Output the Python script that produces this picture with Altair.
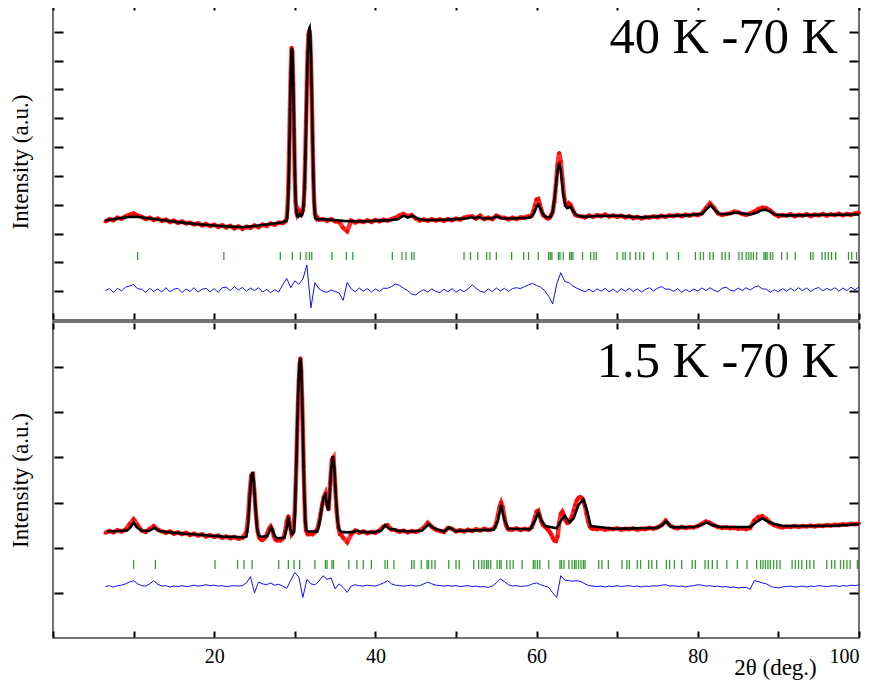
import altair as alt
import pandas as pd

# ---------------- text ----------------
TOP_LABEL = "40 K -70 K"
BOT_LABEL = "1.5 K -70 K"
Y_TITLE = "Intensity (a.u.)"
X_TITLE = "2θ (deg.)"
X_TICKS = [0, 10, 20, 30, 40, 50, 60, 70, 80, 90, 100]
TOP_Y_TICKS = [1, 2, 3, 4, 5, 6, 7, 8, 9, 10]
BOT_Y_TICKS = [1, 2, 3, 4, 5, 6]

# ---------------- top panel (40 K - 70 K) ----------------
TOP_CALC = [(6.5,3.45),(8,3.52),(9.5,3.58),(10.5,3.58),(12,3.52),(14,3.45),(16,3.38),(18,3.32),(20,3.28),(22,3.24),
    (23.5,3.22),(25,3.26),(27,3.33),(28.5,3.39),(29.0,3.45),(29.1,3.75),(29.2,4.4),(29.3,5.6),(29.4,7.1),(29.5,8.5),
    (29.6,9.35),(29.65,9.43),(29.7,9.3),(29.8,8.3),(29.9,6.8),(30.0,5.2),(30.1,4.2),(30.2,3.75),(30.3,3.6),(30.4,3.58),
    (30.5,3.6),(30.6,3.66),(30.7,3.62),(30.8,3.6),(30.9,3.64),(31.0,3.75),(31.1,4.0),(31.2,4.6),(31.3,5.5),(31.4,6.8),
    (31.5,8.1),(31.6,9.2),(31.7,9.85),(31.8,10.12),(31.85,10.15),(31.9,10.0),(32.0,9.2),(32.1,7.9),(32.2,6.4),(32.3,5.0),
    (32.4,4.1),(32.5,3.65),(32.6,3.52),(32.8,3.5),(34,3.49),(36,3.44),(38,3.42),(40,3.44),(42,3.47),(42.8,3.5),
    (43.5,3.62),(44.0,3.55),(44.6,3.62),(45.2,3.52),(46,3.47),(48,3.47),(50,3.5),(51.5,3.53),(51.9,3.58),(52.3,3.53),
    (52.8,3.58),(53.2,3.52),(54.5,3.53),(55.1,3.6),(55.6,3.53),(57,3.52),(59,3.55),(59.4,3.6),(59.7,3.72),(60.0,3.93),
    (60.2,4.01),(60.4,3.92),(60.7,3.72),(61.0,3.6),(61.4,3.56),(61.7,3.57),(62.0,3.75),(62.3,4.4),(62.6,5.2),(62.8,5.46),
    (63.0,5.2),(63.3,4.4),(63.6,3.95),(63.8,3.88),(64.0,3.9),(64.2,3.93),(64.5,3.8),(64.8,3.68),(65.3,3.6),(66,3.58),
    (68,3.62),(70,3.62),(72,3.58),(73,3.56),(75,3.59),(77,3.62),(79,3.64),(80.5,3.68),(81.1,3.85),(81.6,3.99),
    (82.1,3.82),(82.7,3.68),(83.5,3.67),(84.4,3.71),(84.9,3.74),(85.5,3.69),(86.5,3.66),(87.3,3.72),(87.8,3.8),(88.4,3.83),
    (89.0,3.76),(89.6,3.66),(90.5,3.63),(92,3.63),(94,3.64),(96,3.65),(98,3.65),(100,3.66)]

TOP_OBS = [(6.5,3.42),(7,3.5),(7.5,3.46),(8,3.55),(8.5,3.51),(9,3.6),(9.5,3.66),(10,3.7),(10.5,3.63),(11,3.58),
    (11.5,3.5),(12,3.55),(12.5,3.47),(13,3.52),(13.5,3.44),(14,3.48),(14.5,3.4),(15,3.45),(15.5,3.37),(16,3.42),
    (16.5,3.35),(17,3.38),(17.5,3.31),(18,3.36),(18.5,3.28),(19,3.33),(19.5,3.26),(20,3.31),(20.5,3.23),(21,3.29),
    (21.5,3.21),(22,3.27),(22.5,3.18),(23,3.25),(23.5,3.16),(24,3.24),(24.5,3.2),(25,3.28),(25.5,3.22),(26,3.31),
    (26.5,3.26),(27,3.35),(27.5,3.3),(28,3.38),(28.5,3.36),
    (28.8,3.42),(28.9,3.45),(29.0,3.55),(29.1,3.9),(29.2,4.6),(29.3,5.8),(29.4,7.3),(29.5,8.6),(29.6,9.45),(29.7,9.3),
    (29.8,8.2),(29.9,6.6),(30.0,5.0),(30.1,4.1),(30.2,3.75),(30.3,3.65),(30.4,3.7),(30.5,3.78),(30.6,3.72),(30.7,3.76),
    (30.8,3.7),(30.9,3.74),(31.0,3.8),(31.1,4.0),(31.2,4.6),(31.3,5.6),(31.4,6.9),(31.5,8.2),(31.6,9.3),(31.7,9.9),
    (31.8,10.05),(31.9,9.8),(32.0,9.0),(32.1,7.8),(32.2,6.3),(32.3,5.0),(32.4,4.1),(32.5,3.7),(32.6,3.56),(32.7,3.52),
    (32.8,3.55),(32.9,3.5),(33.0,3.48),
    (33.5,3.5),(34,3.44),(34.5,3.5),(35,3.42),(35.5,3.4),(36,3.2),(36.5,3.08),(37,3.45),(37.5,3.38),(38,3.44),
    (38.5,3.4),(39,3.46),(39.5,3.4),(40,3.47),(40.5,3.42),(41,3.48),(41.5,3.45),(42,3.5),(42.5,3.55),(43,3.63),
    (43.5,3.68),(44,3.6),(44.5,3.64),(45,3.52),(45.5,3.45),(46,3.49),(46.5,3.44),(47,3.5),(47.5,3.45),(48,3.49),
    (48.5,3.44),(49,3.5),(49.5,3.46),(50,3.52),(50.5,3.48),(51,3.55),(51.5,3.58),(52,3.6),(52.5,3.52),(53,3.62),
    (53.5,3.5),(54,3.55),(54.5,3.5),(55,3.62),(55.5,3.56),(56,3.55),(56.5,3.49),(57,3.55),(57.5,3.5),(58,3.56),
    (58.5,3.55),(59,3.6),
    (59.2,3.58),(59.4,3.62),(59.6,3.78),(59.8,3.98),(60.0,4.18),(60.2,4.2),(60.4,4.02),(60.6,3.8),(60.8,3.64),(61.0,3.6),
    (61.2,3.55),(61.4,3.52),(61.6,3.55),(61.8,3.62),(62.0,3.75),(62.2,4.1),(62.4,4.7),(62.6,5.4),(62.8,5.8),(63.0,5.5),
    (63.2,4.9),(63.4,4.3),(63.6,4.0),(63.8,3.98),(64.0,4.05),(64.2,4.0),(64.4,3.88),(64.6,3.75),(64.8,3.65),(65.0,3.62),
    (65.5,3.6),(66,3.56),(66.5,3.63),(67,3.58),(67.5,3.64),(68,3.6),(68.5,3.66),(69,3.59),(69.5,3.63),(70,3.58),
    (70.5,3.62),(71,3.56),(71.5,3.6),(72,3.53),(72.5,3.58),(73,3.52),(73.5,3.57),(74,3.55),(74.5,3.6),(75,3.56),
    (75.5,3.62),(76,3.58),(76.5,3.63),(77,3.6),(77.5,3.65),(78,3.6),(78.5,3.66),(79,3.62),(79.5,3.67),(80,3.64),
    (80.5,3.7),(81,3.88),(81.5,4.05),(82,3.9),(82.5,3.7),(83,3.65),(83.5,3.68),(84,3.7),(84.5,3.76),(85,3.74),
    (85.5,3.68),(86,3.65),(86.5,3.7),(87,3.76),(87.5,3.85),(88,3.9),(88.5,3.88),(89,3.8),(89.5,3.67),(90,3.6),
    (90.5,3.64),(91,3.62),(91.5,3.67),(92,3.6),(92.5,3.65),(93,3.62),(93.5,3.67),(94,3.61),(94.5,3.66),(95,3.63),
    (95.5,3.68),(96,3.62),(96.5,3.67),(97,3.64),(97.5,3.69),(98,3.63),(98.5,3.68),(99,3.65),(99.5,3.7),(100,3.72)]

# difference curve, sampled every 0.5 deg from 6.5 deg
TOP_DIFF = [1.02,1.09,0.96,1.1,1.01,1.14,1.18,1.23,1.08,1.07,
    0.96,1.1,0.99,1.08,0.97,1.12,0.98,1.07,1.1,0.95,
    1.08,0.99,1.12,0.97,1.07,1.1,0.98,1.09,0.96,1.12,
    1.14,1.02,1.16,1.04,1.13,1.0,1.11,1.02,1.12,0.97,
    1.06,0.95,1.05,0.97,1.22,1.44,1.12,1.36,1.24,1.42,
    1.91,0.42,1.3,1.08,1.0,0.96,1.04,0.99,0.94,0.68,
    1.3,1.08,0.98,1.11,1.0,1.09,0.97,1.08,0.99,1.1,
    1.1,1.16,1.25,1.2,1.1,1.02,0.9,0.87,0.98,1.05,
    0.97,1.08,0.99,0.95,1.07,0.98,1.09,0.96,1.06,0.98,
    1.08,1.22,1.1,1.0,0.96,1.08,0.98,1.11,1.01,1.1,
    0.99,1.09,1.12,1.09,1.16,1.22,1.27,1.2,1.14,1.02,
    0.82,0.56,1.25,1.64,1.33,1.3,1.18,1.1,1.04,0.98,
    1.07,0.97,1.08,1.0,1.1,0.98,1.07,0.96,1.09,1.0,
    1.1,0.99,1.08,0.97,1.06,1.12,1.01,1.1,1.16,1.07,
    1.07,0.99,1.09,0.96,1.06,0.98,1.08,1.0,1.11,1.02,
    1.12,1.03,0.98,1.1,1.14,1.04,1.0,1.11,1.02,1.12,
    1.04,1.14,1.18,1.08,1.07,0.96,1.05,0.98,1.09,1.0,
    1.1,1.01,1.12,1.02,1.11,0.99,1.08,1.13,1.01,1.1,
    1.03,1.12,1.0,1.11,1.02,1.14,1.04,1.15]

TOP_BRAGG = [10.5,21.2,28.2,29.7,30.7,31.4,31.8,32.1,34.6,36.4,37.2,42.1,43.3,43.8,44.5,44.8,51.0,51.8,52.7,53.8,
    54.2,55.0,56.9,58.4,59.0,60.2,61.5,61.7,61.9,62.7,62.9,63.3,64.1,64.3,64.5,65.7,66.7,67.1,67.4,70.0,
    70.7,71.0,71.6,72.3,72.8,73.3,74.5,76.2,77.6,79.7,80.3,80.7,81.5,81.9,83.0,83.4,83.9,85.1,85.5,86.0,
    86.3,86.6,86.9,87.3,88.2,88.4,88.6,89.0,89.3,90.4,91.1,92.1,94.0,94.3,95.4,95.8,96.2,96.6,97.1,98.7,
    99.1,99.7]
TOP_BRAGG_SPAN = (2.08, 2.36)

# ---------------- bottom panel (1.5 K - 70 K) ----------------
BOT_CALC = [(6.7,2.36),(8,2.37),(9.2,2.38),(9.6,2.45),(10.0,2.56),(10.4,2.45),(11.1,2.37),(12.0,2.38),(12.6,2.44),(13.2,2.37),
    (14.4,2.34),(16.5,2.31),(18.5,2.28),(21,2.25),(23.7,2.23),(24.0,2.25),(24.2,2.5),(24.4,3.1),(24.6,3.55),(24.75,3.68),
    (24.9,3.5),(25.1,2.95),(25.3,2.45),(25.5,2.28),(25.8,2.24),(26.6,2.26),(26.9,2.38),(27.1,2.45),(27.3,2.36),(27.5,2.26),
    (27.8,2.21),(28.7,2.22),(29.0,2.45),(29.2,2.68),(29.45,2.4),(29.7,2.3),(29.9,2.35),(30.0,2.7),(30.1,3.3),(30.2,3.95),
    (30.3,4.65),(30.4,5.3),(30.5,5.8),(30.6,6.1),(30.7,6.19),(30.8,5.95),(30.9,5.35),(31.0,4.6),(31.1,3.75),(31.2,3.05),
    (31.3,2.6),(31.4,2.4),(31.6,2.36),(32.8,2.36),(33.0,2.5),(33.2,2.72),(33.4,2.95),(33.6,3.12),(33.8,3.18),(34.0,2.95),
    (34.15,2.82),(34.3,3.1),(34.5,3.7),(34.7,4.03),(34.9,3.8),(35.1,3.1),(35.3,2.6),(35.5,2.4),(35.8,2.35),(36.5,2.34),
    (37.3,2.35),(37.7,2.38),(38.2,2.35),(39.8,2.34),(40.7,2.38),(41.2,2.5),(41.7,2.42),(42.3,2.41),(42.6,2.38),(44.3,2.36),
    (45.8,2.38),(46.6,2.52),(47.2,2.44),(47.6,2.41),(48.5,2.36),(49.2,2.45),(49.8,2.38),(50.1,2.37),(54.7,2.40),(55.2,2.6),
    (55.6,2.95),(56.0,2.62),(56.5,2.42),(59.2,2.41),(59.8,2.6),(60.2,2.78),(60.6,2.6),(61.1,2.48),(62.5,2.43),(63.1,2.62),
    (63.5,2.70),(64.1,2.56),(64.6,2.65),(65.2,2.95),(65.8,3.07),(66.3,2.8),(66.7,2.48),(69.6,2.42),(74.9,2.44),(75.6,2.5),
    (76.1,2.59),(76.6,2.47),(77.2,2.45),(79.5,2.46),(80.4,2.5),(81.1,2.56),(81.8,2.5),(82.8,2.46),(86.5,2.46),(87.2,2.56),
    (88.0,2.65),(88.7,2.58),(89.4,2.53),(90.6,2.48),(94.4,2.48),(97,2.49),(100,2.52)]

BOT_OBS = [(6.5,2.33),(7,2.37),(7.5,2.34),(8,2.39),(8.5,2.36),(9,2.4),(9.5,2.52),(10,2.63),(10.5,2.5),(11,2.38),
    (11.5,2.35),(12,2.42),(12.5,2.48),(13,2.4),(13.5,2.36),(14,2.33),(14.5,2.36),(15,2.31),(15.5,2.34),(16,2.3),
    (16.5,2.33),(17,2.28),(17.5,2.31),(18,2.27),(18.5,2.3),(19,2.25),(19.5,2.28),(20,2.24),(20.5,2.27),(21,2.22),
    (21.5,2.25),(22,2.21),(22.5,2.24),(23,2.2),(23.5,2.22),
    (24.0,2.35),(24.2,2.65),(24.4,3.2),(24.6,3.6),(24.8,3.62),(25.0,3.2),(25.2,2.7),(25.4,2.35),(25.6,2.22),
    (25.8,2.18),(26.0,2.17),(26.2,2.2),(26.4,2.24),(26.6,2.32),(26.8,2.42),(27.0,2.47),(27.2,2.4),(27.4,2.26),(27.6,2.18),
    (27.8,2.16),(28.0,2.17),(28.2,2.16),(28.4,2.19),(28.6,2.22),(28.8,2.35),(29.0,2.58),(29.2,2.7),(29.4,2.5),(29.6,2.3),
    (29.8,2.35),
    (30.0,2.8),(30.1,3.3),(30.2,3.9),(30.3,4.6),(30.4,5.2),(30.5,5.7),(30.6,6.05),(30.7,6.2),(30.8,5.9),(30.9,5.3),
    (31.0,4.6),(31.1,3.8),(31.2,3.1),(31.3,2.6),(31.4,2.38),
    (31.6,2.3),(31.8,2.3),(32.0,2.32),(32.2,2.3),(32.4,2.33),(32.6,2.36),(32.8,2.42),(33.0,2.55),(33.2,2.75),(33.4,2.95),
    (33.6,3.12),(33.8,3.2),(34.0,2.95),(34.2,2.85),(34.4,3.45),(34.6,3.95),(34.8,4.0),(35.0,3.4),(35.2,2.8),(35.4,2.45),
    (35.6,2.3),(35.8,2.28),
    (36,2.22),(36.5,2.12),(37,2.3),(37.5,2.38),(38,2.33),(38.5,2.36),(39,2.32),(39.5,2.35),(40,2.33),(40.5,2.38),
    (41,2.47),(41.5,2.5),(42,2.4),(42.5,2.39),(43,2.35),(43.5,2.38),(44,2.34),(44.5,2.37),(45,2.35),(45.5,2.38),
    (46,2.45),(46.5,2.55),(47,2.46),(47.5,2.4),(48,2.37),(48.5,2.35),(49,2.44),(49.5,2.42),(50,2.36),(50.5,2.39),
    (51,2.36),(51.5,2.4),(52,2.37),(52.5,2.41),(53,2.38),(53.5,2.42),(54,2.39),(54.5,2.41),
    (54.8,2.45),(55.0,2.55),(55.2,2.72),(55.4,2.9),(55.6,3.0),(55.8,2.9),(56.0,2.68),(56.2,2.5),(56.4,2.42),(56.6,2.4),
    (56.8,2.41),(57,2.4),(57.5,2.43),(58,2.39),(58.5,2.42),(59,2.4),
    (59.4,2.45),(59.6,2.55),(59.8,2.68),(60.0,2.8),(60.2,2.82),(60.4,2.7),(60.6,2.58),(60.8,2.5),(61.0,2.47),(61.2,2.44),
    (61.4,2.4),(61.6,2.36),(61.8,2.3),(62.0,2.22),(62.2,2.16),(62.4,2.15),(62.6,2.25),(62.8,2.55),(63.0,2.75),(63.2,2.8),
    (63.4,2.72),(63.6,2.6),(63.8,2.55),(64.0,2.56),(64.2,2.62),(64.4,2.7),(64.6,2.82),(64.8,2.95),(65.0,3.05),(65.2,3.1),
    (65.4,3.12),(65.6,3.1),(65.8,3.05),(66.0,2.92),(66.2,2.75),(66.4,2.58),(66.6,2.47),(66.8,2.43),(67.0,2.42),
    (67.5,2.41),(68,2.43),(68.5,2.4),(69,2.42),(69.5,2.41),(70,2.43),(70.5,2.4),(71,2.42),(71.5,2.41),(72,2.43),
    (72.5,2.4),(73,2.42),(73.5,2.41),(74,2.44),(74.5,2.42),(75,2.45),(75.5,2.5),(76,2.6),(76.5,2.5),(77,2.45),
    (77.5,2.43),(78,2.46),(78.5,2.44),(79,2.46),(79.5,2.45),(80,2.48),(80.5,2.53),(81,2.58),(81.5,2.55),(82,2.5),
    (82.5,2.46),(83,2.44),(83.5,2.45),(84,2.43),(84.5,2.44),(85,2.42),(85.5,2.43),(86,2.41),(86.5,2.44),(87,2.6),
    (87.5,2.68),(88,2.7),(88.5,2.64),(89,2.55),(89.5,2.5),(90,2.47),(90.5,2.45),(91,2.47),(91.5,2.46),(92,2.48),
    (92.5,2.46),(93,2.48),(93.5,2.47),(94,2.49),(94.5,2.47),(95,2.49),(95.5,2.48),(96,2.5),(96.5,2.49),(97,2.51),
    (97.5,2.5),(98,2.52),(98.5,2.51),(99,2.53),(99.5,2.52),(100,2.54)]

BOT_DIFF = [1.14,1.16,1.13,1.16,1.17,1.2,1.24,1.27,1.2,1.16,
    1.15,1.2,1.27,1.19,1.15,1.16,1.13,1.15,1.14,1.16,
    1.14,1.15,1.17,1.15,1.16,1.18,1.16,1.17,1.15,1.16,
    1.14,1.15,1.16,1.15,1.16,1.22,1.36,1.0,1.24,1.2,
    1.18,1.22,1.17,1.19,1.15,1.1,1.28,1.45,1.35,0.9,
    1.3,1.2,1.18,1.26,1.38,1.3,1.33,1.09,1.2,1.12,
    1.01,1.15,1.18,1.16,1.15,1.17,1.16,1.15,1.18,1.22,
    1.27,1.2,1.17,1.16,1.15,1.16,1.17,1.15,1.16,1.2,
    1.24,1.2,1.17,1.16,1.15,1.16,1.15,1.16,1.14,1.15,
    1.16,1.14,1.15,1.13,1.14,1.12,1.15,1.22,1.31,1.25,
    1.18,1.15,1.16,1.14,1.15,1.16,1.2,1.22,1.18,1.15,
    1.12,1.0,0.9,1.38,1.28,1.27,1.26,1.27,1.25,1.2,
    1.16,1.15,1.14,1.15,1.13,1.15,1.14,1.16,1.14,1.15,
    1.16,1.14,1.15,1.13,1.15,1.14,1.16,1.15,1.17,1.18,
    1.15,1.16,1.14,1.15,1.13,1.15,1.16,1.18,1.17,1.15,
    1.16,1.14,1.15,1.13,1.14,1.12,1.13,1.11,1.12,1.12,
    1.08,1.27,1.25,1.22,1.2,1.15,1.12,1.11,1.13,1.14,
    1.15,1.13,1.14,1.15,1.13,1.15,1.14,1.16,1.15,1.14,
    1.15,1.16,1.14,1.16,1.15,1.17,1.16,1.18]

BOT_BRAGG = [10.0,12.7,20.1,22.9,23.7,24.7,28.0,29.2,29.9,30.6,32.5,33.8,34.0,34.6,34.8,36.7,37.7,38.5,39.5,41.2,
    41.5,42.3,44.5,44.8,45.7,46.4,46.6,47.0,47.4,49.1,50.0,50.4,52.2,52.8,53.2,53.5,53.8,54.0,54.3,55.1,
    55.4,55.6,56.3,56.7,57.1,58.2,59.6,59.8,60.1,60.4,61.5,62.9,63.1,63.4,64.0,64.4,64.7,64.9,65.2,65.5,
    65.8,66.0,67.7,68.1,68.9,70.6,71.2,71.5,72.5,72.9,73.9,74.3,74.9,76.1,76.5,77.1,78.0,79.3,79.7,80.9,
    81.3,81.8,82.4,83.6,84.9,86.1,87.3,87.8,88.1,88.4,88.7,89.0,89.4,89.8,90.2,91.7,92.1,92.5,92.9,93.5,
    93.9,94.4,96.0,96.6,97.0,97.7,98.1,98.5,98.9,99.8]
BOT_BRAGG_SPAN = (1.53, 1.73)

DIFF_X0 = 6.5
DIFF_STEP = 0.5
TOP_LABEL_POS = (97.4, 9.26)
BOT_LABEL_POS = (97.4, 5.79)

SERIF = "Liberation Serif"


def build_panel(calc, obs, diff, bragg, span, label, label_pos, y_max, y_ticks, height, is_bottom):
    calc_df = pd.DataFrame(calc, columns=["x", "y"])
    obs_df = pd.DataFrame(obs, columns=["x", "y"])
    diff_df = pd.DataFrame({"x": [DIFF_X0 + DIFF_STEP * i for i in range(len(diff))], "y": diff})
    bragg_df = pd.DataFrame({"x": bragg, "y": [span[0]] * len(bragg), "y2": [span[1]] * len(bragg)})
    label_df = pd.DataFrame({"x": [label_pos[0]], "y": [label_pos[1]], "t": [label]})

    xs = alt.Scale(domain=[0, 100], nice=False, zero=False)
    ys = alt.Scale(domain=[0, y_max], nice=False, zero=False)
    no_x = alt.X("x:Q", scale=xs, axis=None)
    no_y = alt.Y("y:Q", scale=ys, axis=None)

    tick_style = dict(domain=False, grid=False, tickColor="black", tickWidth=2)
    inner = dict(minExtent=0, maxExtent=0)   # inward ticks take no layout room
    if is_bottom:
        bottom_axis = alt.Axis(orient="bottom", values=X_TICKS, tickSize=6, offset=-7, **tick_style,
                               labels=True,
                               labelExpr="datum.value % 20 == 0 && datum.value > 0 ? datum.label : ''",
                               labelFont=SERIF, labelFontSize=20, labelColor="black", labelPadding=9,
                               labelFlush=True, labelFlushOffset=0,
                               title=X_TITLE, titleFont=SERIF, titleFontSize=23, titleFontWeight="normal",
                               titleColor="black", titleX=722, titleY=43, titleBaseline="alphabetic",
                               titleAlign="center", titleAngle=0)
    else:
        bottom_axis = alt.Axis(orient="bottom", values=X_TICKS, tickSize=6, offset=-7, **tick_style,
                               labels=False, title=None, **inner)
    top_axis = alt.Axis(orient="top", values=X_TICKS, tickSize=6, offset=-7, **tick_style,
                        labels=False, title=None, **inner)
    left_axis = alt.Axis(orient="left", values=y_ticks, tickSize=9, offset=-10, **tick_style,
                         labels=False, title=Y_TITLE, titleFont=SERIF, titleFontSize=23,
                         titleFontWeight="normal", titleColor="black", titlePadding=21)
    right_axis = alt.Axis(orient="right", values=y_ticks, tickSize=9, offset=-10, **tick_style,
                          labels=False, title=None, **inner)

    diff_line = alt.Chart(diff_df).mark_line(color="#1010ff", strokeWidth=1).encode(x=no_x, y=no_y)
    bragg_ticks = alt.Chart(bragg_df).mark_rule(color="#138a13", strokeWidth=1.3, opacity=0.85).encode(
        x=no_x, y=no_y, y2="y2:Q")
    obs_line = alt.Chart(obs_df).mark_line(color="#ff1a1a", strokeWidth=4.5, opacity=0.9).encode(x=no_x, y=no_y)
    obs_pts = alt.Chart(obs_df).mark_point(color="#ff0000", filled=True, size=14, opacity=1).encode(x=no_x, y=no_y)
    calc_line = alt.Chart(calc_df).mark_line(color="black", strokeWidth=2.6).encode(
        x=alt.X("x:Q", scale=xs, axis=bottom_axis), y=alt.Y("y:Q", scale=ys, axis=left_axis))
    text = alt.Chart(label_df).mark_text(font=SERIF, fontSize=50.5, align="right", baseline="alphabetic",
                                         color="black").encode(
        x=alt.X("x:Q", scale=xs, axis=top_axis), y=alt.Y("y:Q", scale=ys, axis=right_axis), text="t:N")

    return alt.layer(diff_line, bragg_ticks, obs_line, obs_pts, calc_line, text).resolve_axis(
        x="independent", y="independent").properties(width=806, height=height)


top = build_panel(TOP_CALC, TOP_OBS, TOP_DIFF, TOP_BRAGG, TOP_BRAGG_SPAN, TOP_LABEL, TOP_LABEL_POS,
                  11, TOP_Y_TICKS, 317, False)
bottom = build_panel(BOT_CALC, BOT_OBS, BOT_DIFF, BOT_BRAGG, BOT_BRAGG_SPAN, BOT_LABEL, BOT_LABEL_POS,
                     7, BOT_Y_TICKS, 316, True)

# negative paddings trim empty layout room so the frame sits where the original's does
chart = alt.vconcat(top, bottom, spacing=0).properties(
    padding={"left": 0, "top": -6, "right": -8, "bottom": 0}
).configure_view(stroke="#444444", strokeWidth=1.5)

chart.save("out.html", embed_options={"renderer": "svg", "actions": False})
